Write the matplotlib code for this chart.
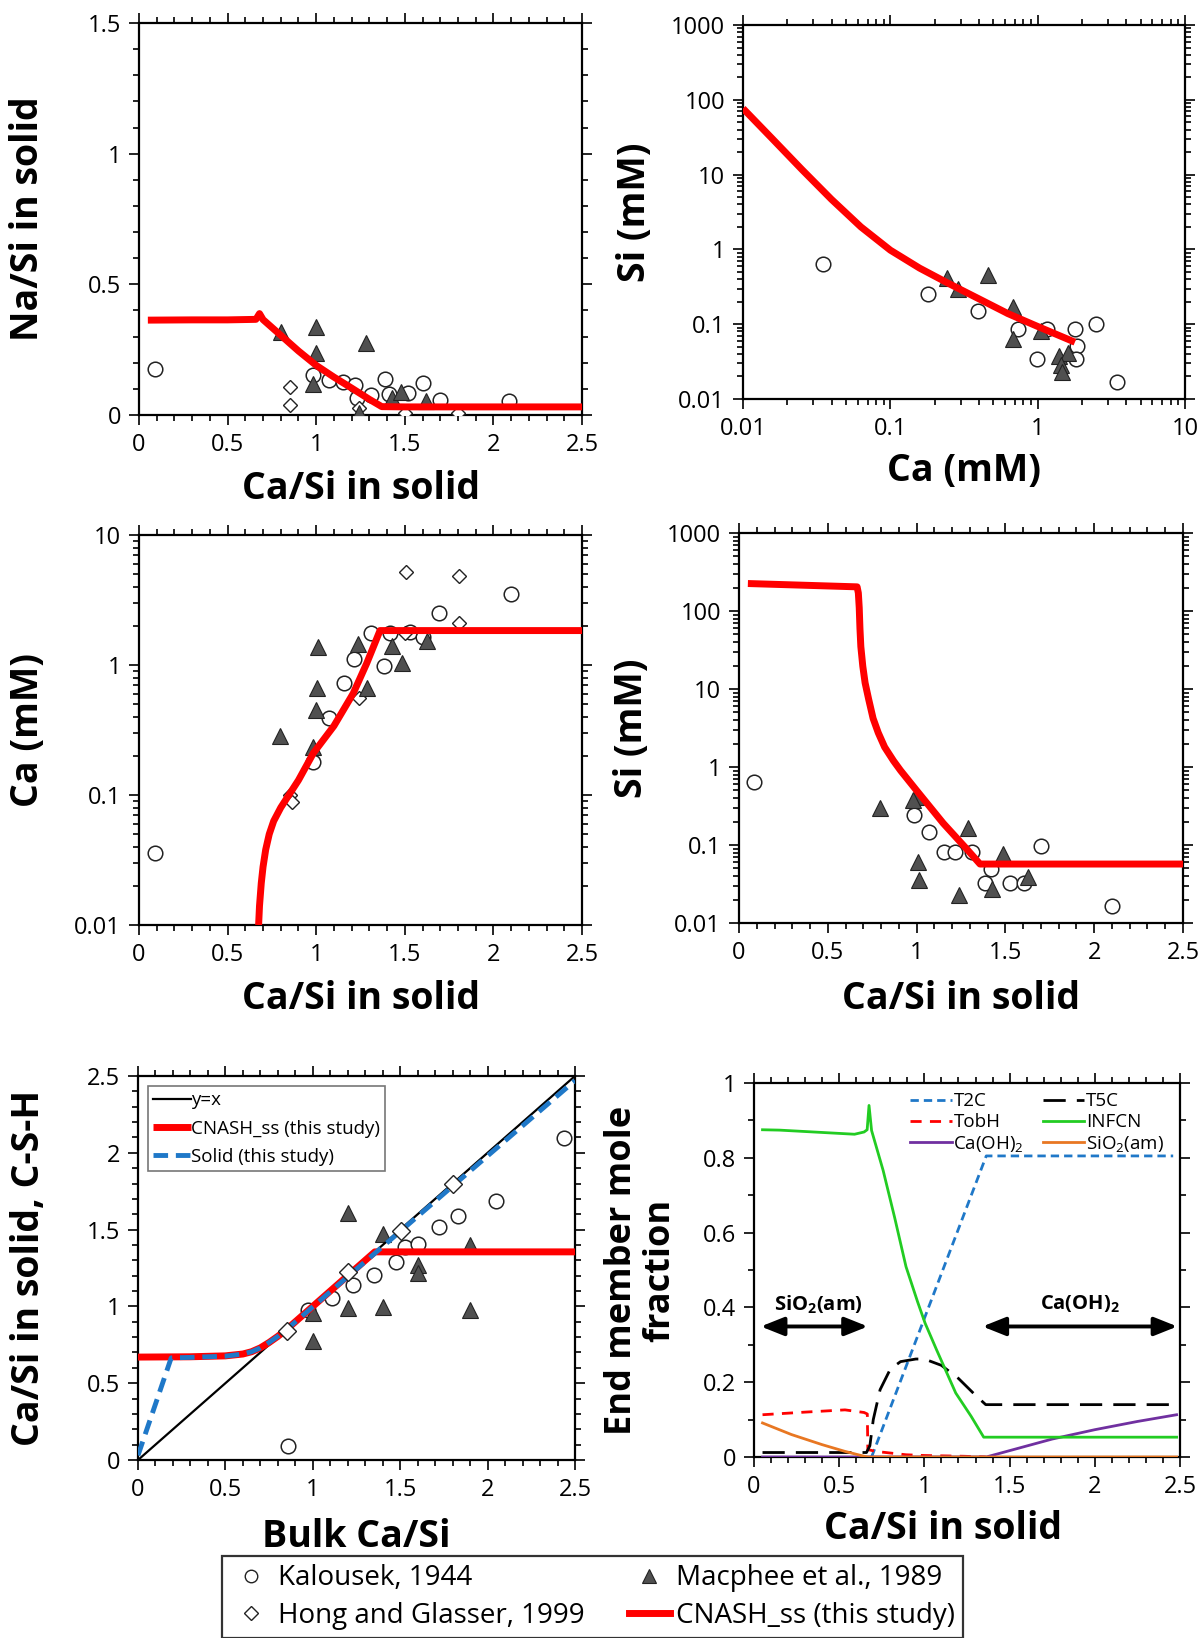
import numpy as np
import matplotlib
matplotlib.use('Agg')
import matplotlib.pyplot as plt
from matplotlib.ticker import MultipleLocator, LogLocator, NullFormatter, FuncFormatter
from matplotlib.lines import Line2D

plt.rcParams['font.family'] = ['Open Sans', 'DejaVu Sans']
plt.rcParams['mathtext.default'] = 'regular'

# ---------------- data ----------------
# Panel 1: Na/Si vs Ca/Si
p1_line_x = [0.05, 0.3, 0.5, 0.66, 0.68, 0.70, 0.75, 0.8, 0.9, 1.0, 1.1, 1.2, 1.3, 1.37, 1.5, 2.0, 2.5]
p1_line_y = [0.363, 0.364, 0.364, 0.366, 0.388, 0.365, 0.335, 0.305, 0.245, 0.19, 0.145, 0.103, 0.06, 0.032, 0.031, 0.031, 0.031]
kal1_x = [0.09, 0.98, 1.07, 1.15, 1.22, 1.23, 1.31, 1.39, 1.41, 1.52, 1.60, 1.70, 2.09]
kal1_y = [0.177, 0.152, 0.133, 0.125, 0.115, 0.065, 0.076, 0.137, 0.08, 0.083, 0.122, 0.056, 0.055]
mac1_x = [0.80, 1.0, 1.0, 0.98, 1.28, 1.43, 1.48, 1.62, 1.24]
mac1_y = [0.316, 0.336, 0.236, 0.12, 0.274, 0.064, 0.087, 0.055, 0.006]
hg1_x = [0.85, 0.85, 1.24, 1.5, 1.8]
hg1_y = [0.108, 0.038, 0.026, 0.006, 0.006]

# Panel 2: Si vs Ca (log-log)
p2_ca = [0.01, 0.0158, 0.0251, 0.0398, 0.0631, 0.1, 0.158, 0.251, 0.398, 0.631, 1.0, 1.79]
p2_si = [76.6, 30.2, 11.7, 4.68, 2.0, 0.977, 0.562, 0.347, 0.219, 0.138, 0.0933, 0.0575]
kal2_x = [0.035, 0.18, 0.393, 0.733, 0.987, 1.16, 1.79, 1.84, 1.82, 2.49, 3.46]
kal2_y = [0.64, 0.251, 0.152, 0.086, 0.034, 0.086, 0.086, 0.051, 0.034, 0.10, 0.0167]
mac2_x = [0.241, 0.29, 0.458, 0.684, 0.684, 1.05, 1.40, 1.61, 1.44, 1.47]
mac2_y = [0.411, 0.30, 0.455, 0.168, 0.063, 0.081, 0.0376, 0.041, 0.0285, 0.023]

# Panel 3: Ca vs Ca/Si
p3_x = [0.675, 0.68, 0.69, 0.70, 0.715, 0.735, 0.76, 0.80, 0.85, 0.9, 0.984, 1.1, 1.209, 1.285, 1.36, 1.5, 2.0, 2.5]
p3_y = [0.01, 0.014, 0.021, 0.028, 0.038, 0.05, 0.063, 0.08, 0.102, 0.13, 0.21, 0.34, 0.605, 1.03, 1.84, 1.84, 1.84, 1.84]
kal3_x = [0.09, 0.984, 1.074, 1.157, 1.215, 1.308, 1.384, 1.416, 1.529, 1.60, 1.695, 2.098]
kal3_y = [0.0356, 0.18, 0.39, 0.73, 1.12, 1.77, 0.98, 1.77, 1.80, 1.63, 2.53, 3.5]
mac3_x = [1.012, 1.006, 0.997, 0.796, 0.984, 1.234, 1.288, 1.426, 1.486, 1.624]
mac3_y = [1.38, 0.67, 0.45, 0.284, 0.235, 1.45, 0.67, 1.40, 1.03, 1.54]
hg3_x = [1.505, 1.808, 1.808, 1.5, 1.243, 0.852, 0.862]
hg3_y = [5.16, 4.86, 2.09, 1.75, 0.555, 0.1, 0.089]

# Panel 4: Si vs Ca/Si
p4_x = [0.05, 0.665, 0.672, 0.677, 0.681, 0.686, 0.697, 0.71, 0.73, 0.755, 0.784, 0.82, 0.87, 0.91, 1.0, 1.15, 1.28, 1.357, 1.5, 2.0, 2.5]
p4_y = [225, 204, 170, 110, 60, 35, 19.6, 12, 7.4, 4.2, 2.75, 1.8, 1.2, 0.9, 0.5, 0.19, 0.09, 0.057, 0.057, 0.057, 0.057]
kal4_x = [0.086, 0.985, 1.072, 1.154, 1.216, 1.31, 1.419, 1.385, 1.526, 1.606, 1.699, 2.098]
kal4_y = [0.644, 0.243, 0.148, 0.082, 0.082, 0.082, 0.0488, 0.033, 0.033, 0.033, 0.097, 0.0165]
mac4_x = [0.794, 0.995, 0.98, 1.006, 1.015, 1.239, 1.288, 1.485, 1.426, 1.629]
mac4_y = [0.295, 0.416, 0.38, 0.061, 0.0356, 0.0229, 0.164, 0.077, 0.027, 0.0385]

# Panel 5: Ca/Si in solid vs bulk Ca/Si
yx_x = [0.0, 2.5]
yx_y = [0.0, 2.5]
cnash5_x = [0.0, 0.3, 0.5, 0.6, 0.65, 0.7, 0.75, 0.8, 0.85, 1.355, 2.5]
cnash5_y = [0.67, 0.672, 0.678, 0.69, 0.705, 0.73, 0.765, 0.805, 0.85, 1.355, 1.355]
solid5_x = [0.0, 0.19, 0.3, 0.5, 0.6, 0.65, 0.7, 0.75, 0.8, 0.85, 1.4, 2.0, 2.5]
solid5_y = [0.03, 0.665, 0.668, 0.676, 0.69, 0.705, 0.73, 0.765, 0.805, 0.85, 1.39, 1.98, 2.47]
kal5_x = [0.86, 0.974, 1.108, 1.232, 1.352, 1.476, 1.527, 1.60, 1.722, 1.829, 2.048, 2.439]
kal5_y = [0.091, 0.977, 1.057, 1.139, 1.204, 1.291, 1.385, 1.404, 1.515, 1.591, 1.686, 2.095]
mac5_x = [1.203, 1.40, 1.003, 1.003, 1.203, 1.403, 1.604, 1.604, 1.899, 1.899]
mac5_y = [1.606, 1.47, 0.959, 0.777, 0.988, 0.998, 1.27, 1.215, 1.40, 0.977]
hg5_x = [0.851, 1.203, 1.503, 1.80]
hg5_y = [0.84, 1.226, 1.493, 1.795]

# Panel 6: end member mole fractions
infcn_x = [0.05, 0.15, 0.59, 0.646, 0.664, 0.675, 0.69, 0.758, 0.825, 0.892, 0.96, 1.004, 1.072, 1.184, 1.274, 1.348, 2.48]
infcn_y = [0.875, 0.874, 0.863, 0.869, 0.875, 0.94, 0.873, 0.766, 0.641, 0.509, 0.415, 0.358, 0.286, 0.171, 0.109, 0.053, 0.053]
t2c_x = [0.69, 1.363, 2.46]
t2c_y = [0.0, 0.805, 0.805]
t5c_x = [0.05, 0.66, 0.68, 0.70, 0.74, 0.80, 0.86, 0.95, 1.0, 1.1, 1.2, 1.3, 1.36, 2.48]
t5c_y = [0.012, 0.012, 0.03, 0.10, 0.18, 0.235, 0.255, 0.262, 0.262, 0.245, 0.21, 0.165, 0.14, 0.14]
tobh_x = [0.05, 0.3, 0.534, 0.646, 0.665, 0.668, 0.713, 0.892, 1.0, 1.23, 1.36]
tobh_y = [0.113, 0.12, 0.126, 0.119, 0.115, 0.02, 0.015, 0.006, 0.004, 0.002, 0.0]
caoh_x = [0.05, 1.363, 1.5, 1.75, 2.0, 2.25, 2.48]
caoh_y = [0.0, 0.0, 0.017, 0.048, 0.073, 0.095, 0.113]
sio2_x = [0.05, 0.22, 0.40, 0.534, 0.646, 0.668, 2.48]
sio2_y = [0.091, 0.06, 0.033, 0.015, 0.002, 0.0, 0.0]

# ---------------- styles ----------------
W, H = 1201, 1638
RED = '#ff0000'
TRI_FC = '#505050'
TICK_FS = 17
LAB_FS = 27
circ_kw = dict(marker='o', ms=10.5, mfc='white', mec='#222222', mew=1.1, ls='none', zorder=3)
tri_kw = dict(marker='^', ms=11, mfc=TRI_FC, mec='#222222', mew=0.8, ls='none', zorder=3)
dia_kw = dict(marker='D', ms=7.5, mfc='white', mec='#222222', mew=1.0, ls='none', zorder=3)
red_kw = dict(color=RED, lw=5, zorder=4, solid_capstyle='butt', solid_joinstyle='round')

fig = plt.figure(figsize=(W / 100, H / 100), dpi=100)


def make_ax(l, r, t, b):
    return fig.add_axes([l / W, 1 - b / H, (r - l) / W, (b - t) / H])


fmt = FuncFormatter(lambda v, _: '%g' % v)


def style(ax, xlog=False, ylog=False):
    for s in ax.spines.values():
        s.set_linewidth(1.6)
    ax.tick_params(which='both', direction='out', top=True, right=True, width=1.2,
                   labelsize=TICK_FS, pad=6)
    ax.tick_params(which='major', length=7)
    ax.tick_params(which='minor', length=4)
    if xlog:
        ax.xaxis.set_major_locator(LogLocator(base=10, numticks=20))
        ax.xaxis.set_minor_locator(LogLocator(base=10, subs=np.arange(2, 10), numticks=20))
        ax.xaxis.set_minor_formatter(NullFormatter())
    if ylog:
        ax.yaxis.set_major_locator(LogLocator(base=10, numticks=20))
        ax.yaxis.set_minor_locator(LogLocator(base=10, subs=np.arange(2, 10), numticks=20))
        ax.yaxis.set_minor_formatter(NullFormatter())
    ax.xaxis.set_major_formatter(fmt)
    ax.yaxis.set_major_formatter(fmt)


def labels(ax, xl, yl, xpos=0.5, xy=-0.19, yx=-0.25, fs=LAB_FS):
    ax.set_xlabel(xl, fontsize=LAB_FS, fontweight='bold')
    ax.set_ylabel(yl, fontsize=fs, fontweight='bold')
    ax.xaxis.set_label_coords(xpos, xy)
    ax.yaxis.set_label_coords(yx, 0.5)
    ax.xaxis.label.set_va('center')
    ax.yaxis.label.set_va('center')


def lin_ticks(ax, xmaj=0.5, ymaj=None, ymin=None):
    ax.xaxis.set_major_locator(MultipleLocator(xmaj))
    ax.xaxis.set_minor_locator(MultipleLocator(0.1))
    if ymaj:
        ax.yaxis.set_major_locator(MultipleLocator(ymaj))
        ax.yaxis.set_minor_locator(MultipleLocator(ymin))


# ---- Panel 1 ----
ax1 = make_ax(139, 582, 23, 415)
ax1.plot(kal1_x, kal1_y, **circ_kw)
ax1.plot(hg1_x, hg1_y, **dia_kw)
ax1.plot(mac1_x, mac1_y, **tri_kw)
ax1.plot(p1_line_x, p1_line_y, **red_kw)
ax1.set_xlim(0, 2.5)
ax1.set_ylim(0, 1.5)
style(ax1)
lin_ticks(ax1, 0.5, 0.5, 0.1)
labels(ax1, 'Ca/Si in solid', 'Na/Si in solid', xy=-0.19, yx=-0.25)

# ---- Panel 2 ----
ax2 = make_ax(743, 1185, 25, 399)
ax2.set_xscale('log')
ax2.set_yscale('log')
ax2.plot(kal2_x, kal2_y, **circ_kw)
ax2.plot(mac2_x, mac2_y, **tri_kw)
ax2.plot(p2_ca, p2_si, **red_kw)
ax2.set_xlim(0.01, 10)
ax2.set_ylim(0.01, 1000)
style(ax2, xlog=True, ylog=True)
labels(ax2, 'Ca (mM)', 'Si (mM)', xy=-0.193, yx=-0.244)

# ---- Panel 3 ----
ax3 = make_ax(139, 582, 535, 925)
ax3.set_yscale('log')
ax3.plot(kal3_x, kal3_y, **circ_kw)
ax3.plot(hg3_x, hg3_y, **dia_kw)
ax3.plot(mac3_x, mac3_y, **tri_kw)
ax3.plot(p3_x, p3_y, **red_kw)
ax3.set_xlim(0, 2.5)
ax3.set_ylim(0.01, 10)
style(ax3, ylog=True)
lin_ticks(ax3)
labels(ax3, 'Ca/Si in solid', 'Ca (mM)', xy=-0.19, yx=-0.25)

# ---- Panel 4 ----
ax4 = make_ax(739, 1183, 533, 923)
ax4.set_yscale('log')
ax4.plot(kal4_x, kal4_y, **circ_kw)
ax4.plot(mac4_x, mac4_y, **tri_kw)
ax4.plot(p4_x, p4_y, **red_kw)
ax4.set_xlim(0, 2.5)
ax4.set_ylim(0.01, 1000)
style(ax4, ylog=True)
lin_ticks(ax4)
labels(ax4, 'Ca/Si in solid', 'Si (mM)', xy=-0.195, yx=-0.241)

# ---- Panel 5 ----
ax5 = make_ax(138, 575, 1076, 1460)
ax5.plot(kal5_x, kal5_y, **circ_kw)
ax5.plot(mac5_x, mac5_y, **tri_kw)
l_yx, = ax5.plot(yx_x, yx_y, color='black', lw=1.6, zorder=4, label='y=x')
l_cn, = ax5.plot(cnash5_x, cnash5_y, color=RED, lw=5, zorder=5, label='CNASH_ss (this study)',
                 solid_capstyle='butt', solid_joinstyle='round')
l_so, = ax5.plot(solid5_x, solid5_y, color='#1f78c8', lw=3.5, ls=(0, (3, 1.6)), zorder=6,
                 label='Solid (this study)')
d5 = dict(dia_kw)
d5['ms'] = 9.5
d5['zorder'] = 7
ax5.plot(hg5_x, hg5_y, **d5)
ax5.set_xlim(0, 2.5)
ax5.set_ylim(0, 2.5)
style(ax5)
lin_ticks(ax5, 0.5, 0.5, 0.1)
labels(ax5, 'Bulk Ca/Si', 'Ca/Si in solid, C-S-H', xy=-0.2, yx=-0.25)
leg5 = ax5.legend(handles=[l_yx, l_cn, l_so], loc='upper left', bbox_to_anchor=(0.022, 0.975),
                  borderaxespad=0, fontsize=13.5, frameon=True, fancybox=False, edgecolor='#555555',
                  handlelength=2.0, handletextpad=0.0, labelspacing=0.55, borderpad=0.3)
leg5.get_frame().set_linewidth(1.2)

# ---- Panel 6 ----
ax6 = make_ax(754, 1180, 1083, 1457)
h_t2c, = ax6.plot(t2c_x, t2c_y, color='#1f78c8', lw=2, ls=(0, (3, 1.8)), label='T2C', zorder=3)
h_tobh, = ax6.plot(tobh_x, tobh_y, color='#ff0000', lw=2, ls=(0, (4, 3)), label='TobH', zorder=3)
h_caoh, = ax6.plot(caoh_x, caoh_y, color='#7030a0', lw=2, label='Ca(OH)$_2$', zorder=3)
h_t5c, = ax6.plot(t5c_x, t5c_y, color='black', lw=2, ls=(0, (8, 4)), label='T5C', zorder=3)
h_inf, = ax6.plot(infcn_x, infcn_y, color='#22cc22', lw=2, label='INFCN', zorder=3)
h_sio, = ax6.plot(sio2_x, sio2_y, color='#e87722', lw=2, label='SiO$_2$(am)', zorder=4)
ax6.set_xlim(0, 2.5)
ax6.set_ylim(0, 1)
style(ax6)
lin_ticks(ax6, 0.5, 0.2, 0.1)
labels(ax6, 'Ca/Si in solid', 'End member mole\nfraction', xpos=0.444, xy=-0.192, yx=-0.265, fs=26)
ax6.yaxis.label.set_linespacing(1.1)
ax6.legend(handles=[h_t2c, h_tobh, h_caoh, h_t5c, h_inf, h_sio], ncol=2, loc='upper left',
           bbox_to_anchor=(0.345, 1.0), borderaxespad=0.1, frameon=False, fontsize=13.5,
           handlelength=2.2, handletextpad=0.1, columnspacing=1.0, labelspacing=0.15)
ax6.text(0.377, 0.407, 'SiO$_2$(am)', fontsize=14.5, fontweight='bold', ha='center', va='center')
ax6.text(1.913, 0.407, 'Ca(OH)$_2$', fontsize=14.5, fontweight='bold', ha='center', va='center')
arr = dict(arrowstyle='<|-|>,head_length=0.7,head_width=0.28', lw=2.8, color='black',
           mutation_scale=20, shrinkA=0, shrinkB=0)
ax6.annotate('', xy=(0.04, 0.349), xytext=(0.668, 0.349), arrowprops=arr)
ax6.annotate('', xy=(1.341, 0.349), xytext=(2.484, 0.349), arrowprops=arr)

# ---- bottom legend ----
hk = Line2D([], [], marker='o', ms=9, mfc='white', mec='#222222', mew=1.0, ls='none')
hh = Line2D([], [], marker='D', ms=7, mfc='white', mec='#222222', mew=1.0, ls='none')
hm = Line2D([], [], marker='^', ms=10, mfc=TRI_FC, mec='#222222', mew=0.8, ls='none')
hc = Line2D([], [], color=RED, lw=5)
leg = fig.legend(handles=[hk, hh, hm, hc],
                 labels=['Kalousek, 1944', 'Hong and Glasser, 1999', 'Macphee et al., 1989',
                         'CNASH_ss (this study)'],
                 ncol=2, loc='upper left', bbox_to_anchor=(222 / W, 1 - 1556 / H),
                 borderaxespad=0, fontsize=20, frameon=True, fancybox=False, edgecolor='black',
                 handlelength=1.5, handletextpad=0.2, columnspacing=1.6, labelspacing=0.35,
                 borderpad=0.3)
leg.get_frame().set_linewidth(1.6)

fig.savefig('out.png', dpi=100)
